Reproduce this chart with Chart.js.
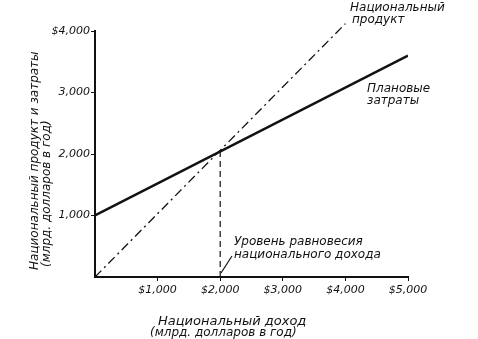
<!DOCTYPE html>
<html lang="ru">
  <head>
    <meta charset="UTF-8" />
    <title>Равновесие национального дохода</title>
    <style>
      body { margin: 0; background: #fff; }
    </style>
  </head>
  <body>
    <canvas id="myChart" width="478" height="339"></canvas>
  </body>
  <script src="https://cdn.jsdelivr.net/npm/chart.js"></script>
  <script>
    // values (млрд. долларов в год)
    const incomeTicks = [1000, 2000, 3000, 4000, 5000];
    const spendTicks = [1000, 2000, 3000, 4000];
    const plannedX = [0, 5000];
    const plannedY = [1000, 3600];
    const productX = [0, 4000];
    const productY = [0, 4120];
    const equilibriumX = [2000, 2000];
    const equilibriumY = [0, 2040];

    const pts = (xs, ys) => xs.map((x, i) => ({ x: x, y: ys[i] }));
    const fmt = (v) => v.toLocaleString('en-US');
    const hand = (size) => 'italic ' + size + 'px "DejaVu Sans"';

    const labelsPlugin = {
      id: 'labels',
      afterDraw(chart) {
        const ctx = chart.ctx;
        ctx.save();
        ctx.fillStyle = '#111';
        ctx.textBaseline = 'alphabetic';
        ctx.textAlign = 'left';
        ctx.font = hand(12);
        ctx.fillText('Национальный', 350, 11);
        ctx.fillText('продукт', 352, 23);
        ctx.fillText('Плановые', 367, 92);
        ctx.fillText('затраты', 367, 104);
        ctx.fillText('Уровень равновесия', 234, 245);
        ctx.fillText('национального дохода', 234, 258);

        ctx.strokeStyle = '#111';
        ctx.lineWidth = 1.2;
        ctx.beginPath();
        ctx.moveTo(221, 273);
        ctx.lineTo(232, 256);
        ctx.stroke();

        ctx.font = hand(13);
        ctx.fillText('Национальный доход', 158, 325);
        ctx.font = hand(12);
        ctx.fillText('(млрд. долларов в год)', 150, 336);

        ctx.translate(0, 270);
        ctx.rotate(-Math.PI / 2);
        ctx.fillText('Национальный продукт и затраты', 0, 38);
        ctx.fillText('(млрд. долларов в год)', 3, 50);
        ctx.restore();
      },
    };

    new Chart(document.getElementById('myChart'), {
      type: 'scatter',
      data: {
        datasets: [
          {
            label: 'Плановые затраты',
            data: pts(plannedX, plannedY),
            showLine: true,
            borderColor: '#111',
            borderWidth: 2.5,
            pointRadius: 0,
          },
          {
            label: 'Национальный продукт',
            data: pts(productX, productY),
            showLine: true,
            borderColor: '#111',
            borderWidth: 1.3,
            borderDash: [9, 4, 2, 4],
            pointRadius: 0,
            clip: false,
          },
          {
            label: 'Равновесие',
            data: pts(equilibriumX, equilibriumY),
            showLine: true,
            borderColor: '#111',
            borderWidth: 1.2,
            borderDash: [6, 4],
            pointRadius: 0,
          },
        ],
      },
      options: {
        responsive: false,
        animation: false,
        layout: { padding: { top: 31, right: 70, left: 0, bottom: 0 } },
        plugins: { legend: { display: false }, tooltip: { enabled: false } },
        scales: {
          x: {
            type: 'linear',
            min: 0,
            max: 5000,
            afterFit: (s) => { s.height = 62; },
            afterBuildTicks: (s) => { s.ticks = incomeTicks.map((v) => ({ value: v })); },
            border: { color: '#111', width: 2 },
            grid: { drawOnChartArea: false, tickLength: 4, color: '#111' },
            ticks: {
              color: '#111',
              font: { family: 'DejaVu Sans', style: 'italic', size: 11 },
              maxRotation: 0,
              padding: 3,
              callback: (v) => '$' + fmt(v),
            },
          },
          y: {
            min: 0,
            max: 4000,
            afterFit: (s) => { s.width = 95; },
            afterBuildTicks: (s) => { s.ticks = spendTicks.map((v) => ({ value: v })); },
            border: { color: '#111', width: 2 },
            grid: { drawOnChartArea: false, tickLength: 4, color: '#111' },
            ticks: {
              color: '#111',
              font: { family: 'DejaVu Sans', style: 'italic', size: 11 },
              padding: 1,
              callback: (v) => (v === 4000 ? '$' : '') + fmt(v),
            },
          },
        },
      },
      plugins: [labelsPlugin],
    });
  </script>
</html>
